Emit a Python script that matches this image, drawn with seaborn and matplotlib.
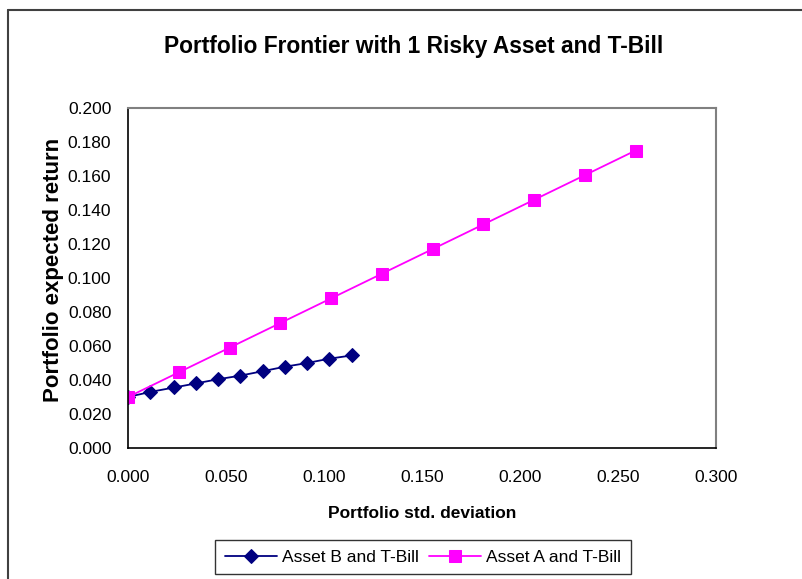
import matplotlib
matplotlib.use("Agg")
import matplotlib.pyplot as plt
from matplotlib.lines import Line2D
import seaborn as sns
import pandas as pd

# Portfolio std. deviation / expected return for each combination
asset_b_sd = [0.000, 0.0114, 0.0236, 0.0347, 0.0457, 0.0570, 0.0688, 0.0800, 0.0914, 0.1025, 0.1145]
asset_b_ret = [0.030, 0.0330, 0.0356, 0.0380, 0.0404, 0.0425, 0.0452, 0.0478, 0.0500, 0.0525, 0.0545]

asset_a_sd = [0.000, 0.0259, 0.0518, 0.0777, 0.1036, 0.1295, 0.1554, 0.1813, 0.2072, 0.2331, 0.2590]
asset_a_ret = [0.030, 0.0445, 0.0590, 0.0735, 0.0880, 0.1025, 0.1170, 0.1315, 0.1460, 0.1605, 0.1750]

x_ticks = [0.0, 0.05, 0.10, 0.15, 0.20, 0.25, 0.30]
y_ticks = [0.0, 0.02, 0.04, 0.06, 0.08, 0.10, 0.12, 0.14, 0.16, 0.18, 0.20]

sns.set_style("white")
plt.rcParams["font.family"] = ["Liberation Sans", "DejaVu Sans"]
plt.rcParams["text.color"] = "black"
plt.rcParams["axes.labelcolor"] = "black"
plt.rcParams["xtick.color"] = "black"
plt.rcParams["ytick.color"] = "black"

W, H = 803, 579
fig = plt.figure(figsize=(W / 100, H / 100), dpi=100)
ax = fig.add_axes([128 / W, 1 - 448 / H, (716 - 128) / W, (448 - 108) / H])

df_b = pd.DataFrame({"sd": asset_b_sd, "ret": asset_b_ret})
df_a = pd.DataFrame({"sd": asset_a_sd, "ret": asset_a_ret})

sns.lineplot(data=df_b, x="sd", y="ret", ax=ax, color="#000080", marker="D",
             markersize=7.5, markeredgecolor="#000080", linewidth=1.3,
             label="Asset B and T-Bill", sort=False)
sns.lineplot(data=df_a, x="sd", y="ret", ax=ax, color="#FF00FF", marker="s",
             markersize=8.5, markeredgecolor="#FF00FF", linewidth=1.3,
             label="Asset A and T-Bill", sort=False)

ax.set_xlim(0, 0.30)
ax.set_ylim(0, 0.20)
ax.set_xticks(x_ticks)
ax.set_yticks(y_ticks)
ax.set_xticklabels([f"{v:.3f}" for v in x_ticks], fontsize=12.5)
ax.set_yticklabels([f"{v:.3f}" for v in y_ticks], fontsize=12.5)
ax.tick_params(axis="x", direction="inout", length=8, width=1, color="black", pad=12)
ax.tick_params(axis="y", direction="inout", length=8, width=1, color="black", pad=8)

for side in ("left", "bottom"):
    ax.spines[side].set_color("black")
    ax.spines[side].set_linewidth(1.2)
for side in ("top", "right"):
    ax.spines[side].set_visible(True)
    ax.spines[side].set_color("#808080")
    ax.spines[side].set_linewidth(1.5)

ax.set_xlabel("Portfolio std. deviation", fontsize=12.5, fontweight="bold", labelpad=15)
ax.set_ylabel("Portfolio expected return", fontsize=16, fontweight="bold")
ax.yaxis.set_label_coords(-0.109, 0.5235)

fig.text(414 / W, 1 - 46 / H, "Portfolio Frontier with 1 Risky Asset and T-Bill",
         ha="center", va="center", fontsize=16.4, fontweight="bold")

ax.legend_.remove()
handles, labels = ax.get_legend_handles_labels()
leg = fig.legend(handles, labels, loc="upper center", bbox_to_anchor=(423 / W, 1 - 540 / H),
                 ncol=2, frameon=True, fancybox=False, edgecolor="black", fontsize=12.5,
                 handlelength=3, columnspacing=0.6, handletextpad=0.3,
                 borderpad=0.55, borderaxespad=0)
leg.get_frame().set_linewidth(1.0)

# outer chart border
fig.add_artist(Line2D([8 / W, 8 / W], [0, 1 - 10 / H], color="#404040", linewidth=1.5,
                      transform=fig.transFigure))
fig.add_artist(Line2D([8 / W, 1], [1 - 10 / H, 1 - 10 / H], color="#404040", linewidth=1.5,
                      transform=fig.transFigure))

fig.savefig("out.png", dpi=100)
